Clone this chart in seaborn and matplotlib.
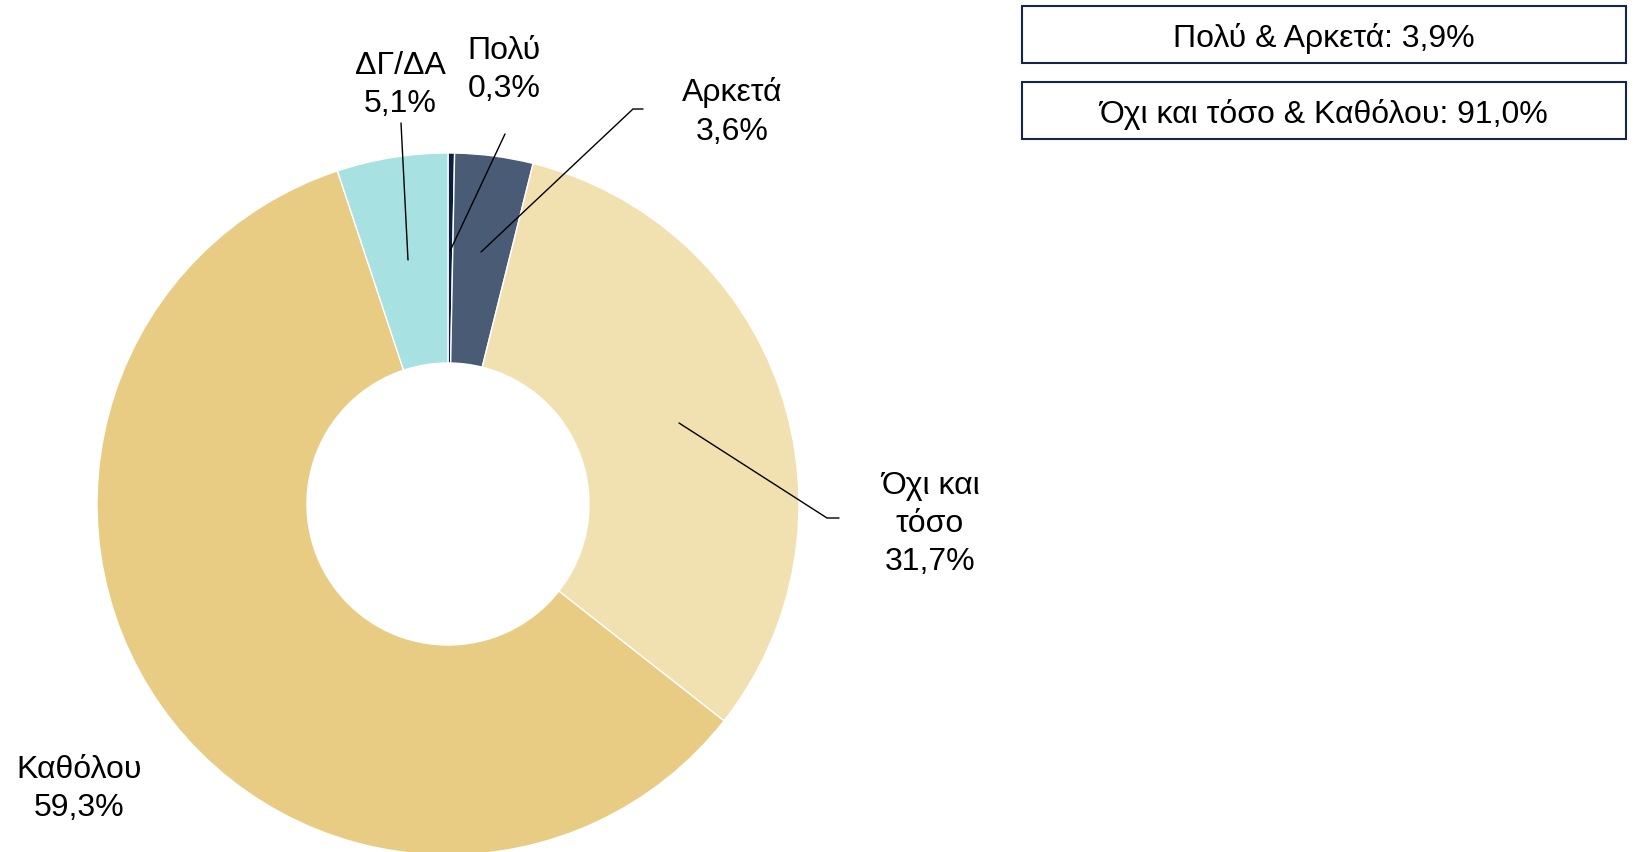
import matplotlib
matplotlib.use("Agg")
import matplotlib.pyplot as plt
import seaborn as sns
from matplotlib.patches import Rectangle

# Data
categories = ["Πολύ", "Αρκετά", "Όχι και\nτόσο", "Καθόλου", "ΔΓ/ΔΑ"]
values = [0.3, 3.6, 31.7, 59.3, 5.1]
summary_labels = ["Πολύ & Αρκετά", "Όχι και τόσο & Καθόλου"]
summary_values = [3.9, 91.0]

colors = ["#0c1f3f", "#4a5b75", "#f1e0b0", "#e9cc84", "#a8e1e2"]

sns.set_theme(style="white")
plt.rcParams["font.family"] = ["Liberation Sans", "DejaVu Sans"]

W, H = 1638, 853
fig = plt.figure(figsize=(W / 100, H / 100), dpi=100)
ax = fig.add_axes([0, 0, 1, 1])


def py(y):
    # pixel y (top-down) -> data y
    return H - y


def fmt(v):
    return f"{v:.1f}".replace(".", ",") + "%"


ax.pie(values, colors=colors, startangle=90, counterclock=False,
       center=(448, py(505)), radius=351,
       explode=[0, 0.015, 0, 0, 0],
       wedgeprops=dict(width=351 - 141, edgecolor="white", linewidth=1.0))
ax.set_xlim(0, W)
ax.set_ylim(0, H)
ax.set_aspect("auto")
ax.axis("off")

fs = 23
# label positions (pixel) and leader lines
label_pos = [(504, 70), (732, 112), (930, 524), (79, 789), (400, 85)]
leaders = [
    [(505, 135), (450, 252)],
    [(643, 110), (633, 110), (481, 253)],
    [(679, 424), (827, 519), (839, 519)],
    None,
    [(401, 124), (408, 261)],
]
for cat, v, (lx, ly), ld in zip(categories, values, label_pos, leaders):
    ax.text(lx, py(ly), f"{cat}\n{fmt(v)}", ha="center", va="center",
            fontsize=fs, color="black", linespacing=1.35)
    if ld:
        xs = [p[0] for p in ld]
        ys = [py(p[1]) for p in ld]
        ax.plot(xs, ys, color="black", lw=1.0)

# summary boxes
boxes = [(1022, 7, 604, 57), (1022, 83, 604, 57)]
for lab, v, (bx, by, bw, bh) in zip(summary_labels, summary_values, boxes):
    ax.add_patch(Rectangle((bx, py(by + bh)), bw, bh, facecolor="white",
                           edgecolor="#16264a", lw=1.5))
    ax.text(bx + bw / 2, py(by + bh / 2 + 3), f"{lab}: {fmt(v)}", ha="center",
            va="center", fontsize=fs, color="black")

fig.savefig("out.png", dpi=100)
